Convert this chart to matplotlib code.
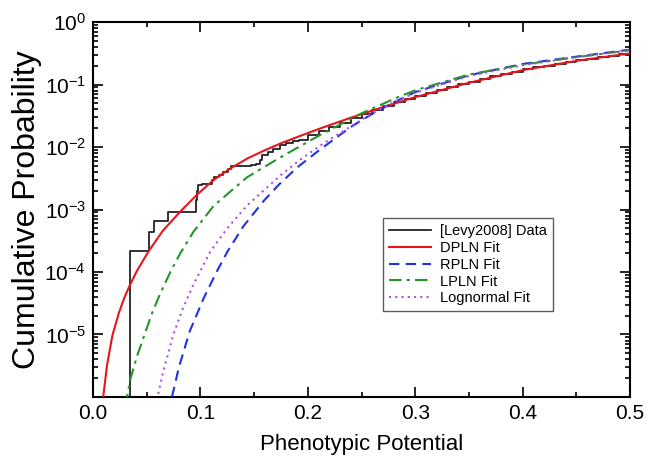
# 累积概率对比图：数据与各拟合分布
import numpy as np
import matplotlib
matplotlib.use('Agg')
import matplotlib.pyplot as plt

plt.rcParams['font.family'] = ['Liberation Sans', 'DejaVu Sans']
plt.rcParams['mathtext.default'] = 'regular'

# [Levy2008] 经验累积分布（阶梯左端点与高度）
data_x = [0.034, 0.0517, 0.0564, 0.0695, 0.0963, 0.097, 0.0975, 0.1015, 0.111,
          0.1125, 0.117, 0.121, 0.126, 0.128, 0.147, 0.152, 0.155, 0.157, 0.163,
          0.168, 0.174, 0.18, 0.186, 0.192, 0.2, 0.21, 0.22, 0.23, 0.24, 0.25,
          0.26, 0.27, 0.28, 0.29, 0.3, 0.31, 0.32, 0.33, 0.34, 0.35, 0.36, 0.37,
          0.38, 0.39, 0.4, 0.41, 0.42, 0.43, 0.44, 0.45, 0.46, 0.47, 0.48, 0.49, 0.5]
data_y = [2.2e-4, 4.4e-4, 6.5e-4, 9.0e-4, 1.4e-3, 2.0e-3, 2.45e-3, 2.6e-3, 3.0e-3,
          3.35e-3, 3.6e-3, 4.0e-3, 4.5e-3, 4.9e-3, 5.1e-3, 5.4e-3, 6.2e-3, 7.4e-3, 8.4e-3,
          9.2e-3, 1.07e-2, 1.15e-2, 1.23e-2, 1.3e-2, 1.55e-2, 1.8e-2, 2.1e-2, 2.45e-2, 2.9e-2, 3.4e-2,
          3.9e-2, 4.6e-2, 5.25e-2, 5.95e-2, 6.65e-2, 7.4e-2, 8.2e-2, 9.1e-2, 0.1016, 0.112, 0.123, 0.135,
          0.148, 0.162, 0.176, 0.188, 0.202, 0.216, 0.232, 0.247, 0.261, 0.275, 0.291, 0.308, 0.316]

# DPLN 拟合
dpln_x = [0.0095, 0.013, 0.018, 0.024, 0.029, 0.034, 0.041, 0.0517, 0.065, 0.0813,
          0.097, 0.112, 0.128, 0.144, 0.16, 0.175, 0.193, 0.212, 0.24, 0.27,
          0.3, 0.35, 0.4, 0.45, 0.5]
dpln_y = [1.0e-6, 3.16e-6, 9.55e-6, 2.19e-5, 3.8e-5, 6.0e-5, 1.05e-4, 2.14e-4, 4.57e-4, 9.3e-4,
          1.74e-3, 2.95e-3, 4.57e-3, 6.6e-3, 8.9e-3, 1.15e-2, 1.51e-2, 2.0e-2, 2.95e-2, 4.37e-2,
          6.3e-2, 0.107, 0.17, 0.24, 0.316]

# RPLN 拟合
rpln_x = [0.0735, 0.08, 0.09, 0.103, 0.115, 0.125, 0.14, 0.159, 0.173, 0.19,
          0.209, 0.24, 0.26, 0.28, 0.3, 0.35, 0.4, 0.45, 0.5]
rpln_y = [1.0e-6, 3.0e-6, 1.12e-5, 3.8e-5, 1.0e-4, 2.1e-4, 5.4e-4, 1.38e-3, 2.5e-3, 4.7e-3,
          8.5e-3, 2.1e-2, 3.4e-2, 5.2e-2, 7.6e-2, 0.141, 0.214, 0.28, 0.363]

# LPLN 拟合
lpln_x = [0.030, 0.035, 0.041, 0.047, 0.055, 0.0623, 0.072, 0.0813, 0.0935, 0.1124,
          0.1436, 0.1748, 0.212, 0.25, 0.284, 0.3, 0.35, 0.4, 0.45, 0.5]
lpln_y = [7.1e-7, 2.0e-6, 4.5e-6, 8.9e-6, 2.2e-5, 4.4e-5, 1.0e-4, 2.0e-4, 4.4e-4, 1.15e-3,
          3.3e-3, 6.9e-3, 1.58e-2, 3.47e-2, 6.3e-2, 8.1e-2, 0.145, 0.209, 0.275, 0.355]

# 对数正态拟合
logn_x = [0.0607, 0.065, 0.0748, 0.084, 0.0935, 0.1093, 0.125, 0.1436, 0.16, 0.1748,
          0.193, 0.212, 0.224, 0.256, 0.28, 0.3, 0.35, 0.4, 0.45, 0.5]
logn_y = [1.12e-6, 2.4e-6, 1.0e-5, 2.7e-5, 6.3e-5, 2.14e-4, 5.0e-4, 1.17e-3, 2.1e-3, 3.55e-3,
          6.3e-3, 1.07e-2, 1.45e-2, 3.16e-2, 5.25e-2, 7.4e-2, 0.138, 0.204, 0.275, 0.355]

fig = plt.figure(figsize=(6.55, 4.61), dpi=100)
ax = fig.add_axes([0.142, 0.139, 0.820, 0.813])

ax.step(np.r_[data_x[0], data_x], np.r_[1e-8, data_y], where='post',
        color='#222222', lw=1.3, label='[Levy2008] Data', zorder=2)
ax.plot(dpln_x, dpln_y, color='#e8141c', lw=1.5, label='DPLN Fit', zorder=3)
ax.plot(rpln_x, rpln_y, color='#2233dd', lw=1.5, ls=(0, (5, 3)), label='RPLN Fit', zorder=3)
ax.plot(lpln_x, lpln_y, color='#23962a', lw=1.5, ls=(0, (6, 2.5, 1.5, 2.5)), label='LPLN Fit', zorder=3)
ax.plot(logn_x, logn_y, color='#b04ee0', lw=1.5, ls=(0, (1, 2)), label='Lognormal Fit', zorder=3)

ax.set_yscale('log')
ax.set_xlim(0, 0.5)
ax.set_ylim(1e-6, 1)
ax.set_xticks([0, 0.1, 0.2, 0.3, 0.4, 0.5])
ax.set_xticklabels(['0.0', '0.1', '0.2', '0.3', '0.4', '0.5'])
ax.set_xticks(np.arange(0.05, 0.5, 0.1), minor=True)
ax.set_yticks([1e-5, 1e-4, 1e-3, 1e-2, 1e-1, 1])
ax.set_yticklabels(['$10^{-5}$', '$10^{-4}$', '$10^{-3}$', '$10^{-2}$', '$10^{-1}$', '$10^{0}$'])
ax.yaxis.set_minor_locator(matplotlib.ticker.LogLocator(base=10, subs=np.arange(2, 10)))
ax.yaxis.set_minor_formatter(matplotlib.ticker.NullFormatter())
ax.tick_params(which='both', direction='in', top=True, right=True, width=1.2)
ax.tick_params(axis='x', labelsize=15)
ax.tick_params(axis='y', labelsize=15)
ax.tick_params(which='major', length=7, pad=5)
ax.tick_params(which='minor', length=3.5)
for s in ax.spines.values():
    s.set_linewidth(1.5)

ax.set_xlabel('Phenotypic Potential', fontsize=16, labelpad=8)
ax.set_ylabel('Cumulative Probability', fontsize=23, labelpad=2)

leg = ax.legend(loc='upper left', bbox_to_anchor=(0.527, 0.497), fontsize=10.5,
                frameon=True, fancybox=False, handlelength=2.9, labelspacing=0.2,
                borderpad=0.4, handletextpad=0.6)
leg.get_frame().set_edgecolor('#333333')
leg.get_frame().set_linewidth(1.0)

fig.savefig('out.png', dpi=100)
